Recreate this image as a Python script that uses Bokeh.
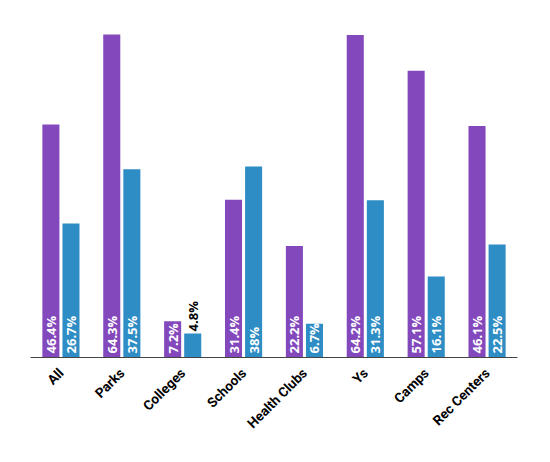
import math
from bokeh.plotting import figure
from bokeh.models import ColumnDataSource
from bokeh.transform import dodge
from bokeh.core.properties import value
from bokeh.embed import file_html
from bokeh.resources import INLINE

categories = ["All", "Parks", "Colleges", "Schools", "Health Clubs", "Ys", "Camps", "Rec Centers"]
series_a = [46.4, 64.3, 7.2, 31.4, 22.2, 64.2, 57.1, 46.1]
series_b = [26.7, 37.5, 4.8, 38.0, 6.7, 31.3, 16.1, 22.5]

PURPLE = "#8448bd"
BLUE = "#2d8dc4"
INSIDE_MIN = 6.0

frame_top, frame_bottom = 10, 357
px_per_unit = 323 / 64.3
y_end = (frame_bottom - frame_top) / px_per_unit

p = figure(x_range=categories, y_range=(0, y_end), width=550, height=462,
           output_backend="svg", toolbar_location=None,
           min_border_left=30, min_border_right=33, min_border_top=frame_top,
           min_border_bottom=462 - frame_bottom)
p.outline_line_color = None
p.grid.grid_line_color = None
p.yaxis.visible = False
p.x_range.range_padding = 0

def make_src(vals):
    labels = [f"{v:g}%" for v in vals]
    inside = [v >= INSIDE_MIN for v in vals]
    ty = [0.8 if ins else v + 0.4 for v, ins in zip(vals, inside)]
    tc = ["white" if ins else "black" for ins in inside]
    return ColumnDataSource(dict(cat=categories, val=vals, label=labels, ty=ty, tc=tc))

for vals, color, off in [(series_a, PURPLE, -0.165), (series_b, BLUE, 0.165)]:
    src = make_src(vals)
    p.vbar(x=dodge("cat", off, range=p.x_range), top="val", width=0.28, source=src,
           fill_color=color, line_color=None)
    p.text(x=dodge("cat", off, range=p.x_range), y="ty", text="label", source=src,
           angle=math.pi / 2, text_align="left", text_baseline="middle",
           text_color="tc", text_font=value("Open Sans"), text_font_style="bold",
           text_font_size="13px")

ax = p.xaxis[0]
ax.major_label_orientation = math.pi / 4
ax.major_tick_line_color = None
ax.minor_tick_line_color = None
ax.axis_line_color = "#444444"
ax.axis_line_width = 1
ax.major_label_text_font = "Roboto"
ax.major_label_text_font_style = "bold"
ax.major_label_text_font_size = "13.5px"
ax.major_label_text_color = "black"
ax.major_label_standoff = 7

open("out.html", "w").write(file_html(p, INLINE))
